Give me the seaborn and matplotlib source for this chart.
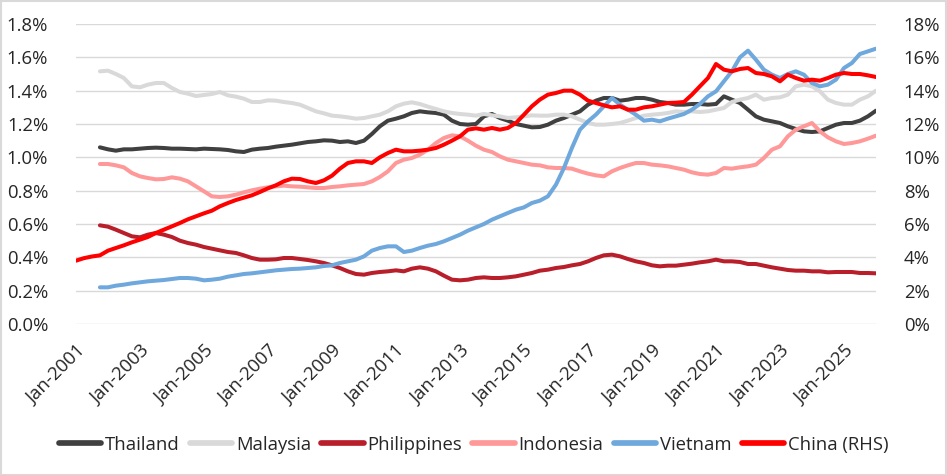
import pandas as pd
import numpy as np
import matplotlib
matplotlib.use('Agg')
import matplotlib.pyplot as plt
import matplotlib.transforms as mtransforms
import seaborn as sns
from matplotlib.ticker import FuncFormatter, MultipleLocator
from matplotlib.lines import Line2D
from matplotlib.patches import Rectangle

# Quarterly points, Jan-2001 .. Jan-2026 (101 values)
dates = pd.date_range('2001-01-01', '2026-01-01', freq='QS')
nan = np.nan

# Left axis, % share
thailand = [
    nan, nan, nan, 1.06,
    1.048, 1.04, 1.048, 1.048,
    1.052, 1.056, 1.058, 1.056,
    1.052, 1.052, 1.05, 1.048,
    1.052, 1.05, 1.048, 1.044,
    1.036, 1.032, 1.046, 1.052,
    1.056, 1.064, 1.07, 1.076,
    1.084, 1.092, 1.096, 1.102,
    1.10, 1.092, 1.096, 1.086,
    1.10, 1.14, 1.186, 1.22,
    1.232, 1.246, 1.266, 1.276,
    1.27, 1.266, 1.256, 1.22,
    1.20, 1.196, 1.20, 1.246,
    1.26, 1.236, 1.22, 1.20,
    1.19, 1.18, 1.182, 1.196,
    1.22, 1.236, 1.256, 1.276,
    1.316, 1.34, 1.356, 1.356,
    1.34, 1.346, 1.356, 1.356,
    1.346, 1.332, 1.326, 1.316,
    1.316, 1.32, 1.32, 1.316,
    1.32, 1.366, 1.346, 1.326,
    1.286, 1.246, 1.226, 1.216,
    1.206, 1.186, 1.17, 1.156,
    1.152, 1.156, 1.176, 1.196,
    1.206, 1.206, 1.22, 1.246,
    1.28,
]
malaysia = [
    nan, nan, nan, 1.516,
    1.52, 1.50, 1.476, 1.426,
    1.42, 1.436, 1.446, 1.446,
    1.416, 1.392, 1.382, 1.368,
    1.374, 1.38, 1.392, 1.372,
    1.364, 1.352, 1.332, 1.332,
    1.342, 1.34, 1.332, 1.326,
    1.316, 1.296, 1.276, 1.264,
    1.25, 1.246, 1.24, 1.232,
    1.236, 1.246, 1.256, 1.276,
    1.306, 1.322, 1.33, 1.32,
    1.304, 1.29, 1.276, 1.266,
    1.26, 1.256, 1.25, 1.26,
    1.252, 1.246, 1.236, 1.24,
    1.246, 1.252, 1.25, 1.25,
    1.256, 1.256, 1.246, 1.226,
    1.206, 1.196, 1.196, 1.20,
    1.206, 1.22, 1.236, 1.25,
    1.256, 1.26, 1.266, 1.276,
    1.272, 1.276, 1.272, 1.276,
    1.286, 1.296, 1.332, 1.346,
    1.356, 1.376, 1.346, 1.356,
    1.36, 1.376, 1.426, 1.436,
    1.426, 1.396, 1.346, 1.326,
    1.316, 1.316, 1.346, 1.366,
    1.40,
]
philippines = [
    nan, nan, nan, 0.592,
    0.584, 0.566, 0.546, 0.526,
    0.52, 0.536, 0.546, 0.536,
    0.522, 0.50, 0.486, 0.476,
    0.462, 0.452, 0.442, 0.432,
    0.426, 0.412, 0.396, 0.386,
    0.386, 0.388, 0.396, 0.396,
    0.39, 0.384, 0.376, 0.366,
    0.352, 0.336, 0.316, 0.30,
    0.296, 0.306, 0.312, 0.316,
    0.322, 0.316, 0.332, 0.34,
    0.332, 0.316, 0.29, 0.266,
    0.262, 0.266, 0.276, 0.28,
    0.276, 0.276, 0.28, 0.286,
    0.296, 0.306, 0.32, 0.326,
    0.336, 0.342, 0.352, 0.36,
    0.376, 0.396, 0.412, 0.416,
    0.406, 0.39, 0.376, 0.366,
    0.352, 0.346, 0.35, 0.35,
    0.356, 0.362, 0.37, 0.376,
    0.386, 0.376, 0.376, 0.372,
    0.36, 0.36, 0.35, 0.34,
    0.332, 0.324, 0.32, 0.32,
    0.316, 0.316, 0.31, 0.312,
    0.312, 0.312, 0.306, 0.306,
    0.304,
]
indonesia = [
    nan, nan, nan, 0.96,
    0.96, 0.952, 0.94, 0.906,
    0.886, 0.876, 0.868, 0.87,
    0.88, 0.872, 0.856, 0.826,
    0.796, 0.766, 0.762, 0.766,
    0.776, 0.79, 0.802, 0.812,
    0.82, 0.826, 0.83, 0.826,
    0.824, 0.82, 0.816, 0.816,
    0.822, 0.826, 0.832, 0.836,
    0.84, 0.856, 0.882, 0.916,
    0.966, 0.986, 0.996, 1.016,
    1.046, 1.086, 1.116, 1.132,
    1.126, 1.10, 1.07, 1.046,
    1.032, 1.006, 0.986, 0.976,
    0.966, 0.956, 0.952, 0.94,
    0.936, 0.936, 0.932, 0.916,
    0.902, 0.892, 0.886, 0.916,
    0.936, 0.952, 0.966, 0.966,
    0.956, 0.952, 0.946, 0.936,
    0.926, 0.91, 0.90, 0.896,
    0.906, 0.936, 0.932, 0.94,
    0.946, 0.956, 0.996, 1.046,
    1.066, 1.126, 1.166, 1.186,
    1.206, 1.156, 1.12, 1.096,
    1.08, 1.086, 1.096, 1.112,
    1.13,
]
vietnam = [
    nan, nan, nan, 0.22,
    0.22, 0.23, 0.236, 0.244,
    0.25, 0.256, 0.26, 0.264,
    0.27, 0.276, 0.276, 0.272,
    0.262, 0.266, 0.272, 0.284,
    0.292, 0.30, 0.304, 0.31,
    0.316, 0.322, 0.326, 0.33,
    0.332, 0.336, 0.34, 0.348,
    0.352, 0.366, 0.376, 0.386,
    0.406, 0.44, 0.456, 0.466,
    0.466, 0.432, 0.44, 0.456,
    0.47, 0.48, 0.496, 0.516,
    0.536, 0.56, 0.58, 0.60,
    0.626, 0.646, 0.666, 0.686,
    0.70, 0.726, 0.74, 0.766,
    0.836, 0.936, 1.056, 1.166,
    1.216, 1.256, 1.306, 1.356,
    1.316, 1.286, 1.256, 1.22,
    1.226, 1.216, 1.232, 1.246,
    1.26, 1.286, 1.32, 1.366,
    1.396, 1.456, 1.516, 1.60,
    1.64, 1.586, 1.526, 1.496,
    1.476, 1.50, 1.516, 1.496,
    1.446, 1.426, 1.436, 1.466,
    1.536, 1.566, 1.62, 1.636,
    1.652,
]
# Right axis, % share
china = [
    3.80, 3.95, 4.05, 4.12,
    4.40, 4.56, 4.72, 4.90,
    5.06, 5.22, 5.46, 5.66,
    5.86, 6.06, 6.28, 6.46,
    6.64, 6.80, 7.06, 7.26,
    7.44, 7.58, 7.72, 7.92,
    8.14, 8.32, 8.56, 8.72,
    8.70, 8.56, 8.46, 8.62,
    8.90, 9.32, 9.66, 9.76,
    9.76, 9.66, 10.0, 10.26,
    10.46, 10.36, 10.36, 10.40,
    10.46, 10.56, 10.76, 11.0,
    11.26, 11.66, 11.74, 11.66,
    11.76, 11.66, 11.76, 12.06,
    12.56, 13.06, 13.46, 13.76,
    13.86, 14.0, 14.0, 13.76,
    13.40, 13.26, 13.12, 13.0,
    13.06, 12.86, 12.86, 13.0,
    13.06, 13.16, 13.26, 13.28,
    13.32, 13.76, 14.26, 14.76,
    15.60, 15.26, 15.16, 15.30,
    15.36, 15.06, 15.0, 14.86,
    14.56, 14.96, 14.76, 14.60,
    14.66, 14.60, 14.76, 14.96,
    15.06, 15.0, 15.0, 14.92,
    14.82,
]

countries = ['Thailand', 'Malaysia', 'Philippines', 'Indonesia', 'Vietnam']
colors = {'Thailand': '#404040', 'Malaysia': '#d9d9d9', 'Philippines': '#b91f2b',
          'Indonesia': '#ff9999', 'Vietnam': '#6fa8dc', 'China (RHS)': '#ff0000'}

left_df = pd.DataFrame({'date': dates, 'Thailand': thailand, 'Malaysia': malaysia,
                        'Philippines': philippines, 'Indonesia': indonesia,
                        'Vietnam': vietnam})
left_df = left_df.melt(id_vars='date', var_name='country', value_name='share').dropna()
china_df = pd.DataFrame({'date': dates, 'share': china})

sns.set_style('white')
plt.rcParams['font.family'] = ['Open Sans', 'DejaVu Sans']
text_color = '#262626'
fs = 13.3
lw = 2.9

fig = plt.figure(figsize=(9.47, 4.75), dpi=100)
ax = fig.add_axes([76 / 947, 1 - 324 / 475, 800 / 947, 300 / 475])
ax2 = ax.twinx()

sns.lineplot(data=left_df, x='date', y='share', hue='country', hue_order=countries,
             palette=colors, linewidth=lw, legend=False, ax=ax,
             solid_capstyle='round', solid_joinstyle='round')
sns.lineplot(data=china_df, x='date', y='share', color=colors['China (RHS)'],
             linewidth=lw, legend=False, ax=ax2,
             solid_capstyle='round', solid_joinstyle='round')

ax.set_ylim(0, 1.8)
ax2.set_ylim(0, 18)
ax.yaxis.set_major_locator(MultipleLocator(0.2))
ax2.yaxis.set_major_locator(MultipleLocator(2))
ax.yaxis.set_major_formatter(FuncFormatter(lambda v, p: f'{v:.1f}%'))
ax2.yaxis.set_major_formatter(FuncFormatter(lambda v, p: f'{v:.0f}%'))
ax.set_xlim(pd.Timestamp('2001-01-01'), pd.Timestamp('2026-01-01'))

ticks = pd.date_range('2001-01-01', '2025-01-01', freq='24MS')
ax.set_xticks(ticks)
ax.set_xticklabels([d.strftime('Jan-%Y') for d in ticks], rotation=45,
                   ha='right', va='top', rotation_mode='anchor')
# nudge rotated labels a little to the right, like the original
shift = mtransforms.ScaledTranslation(5 / 100, 0, fig.dpi_scale_trans)
for lab in ax.get_xticklabels():
    lab.set_transform(lab.get_transform() + shift)

ax.grid(axis='y', color='#d9d9d9', linewidth=1.0)
ax.grid(axis='x', visible=False)
ax2.grid(False)
ax.set_axisbelow(True)
for a in (ax, ax2):
    for s in a.spines.values():
        s.set_visible(False)
    a.set_xlabel('')
    a.set_ylabel('')
    a.tick_params(length=0, labelsize=fs, colors=text_color)
ax.tick_params(axis='y', pad=20)
ax2.tick_params(axis='y', pad=20)
ax.tick_params(axis='x', pad=13)

handles = [Line2D([0], [0], color=colors[c], linewidth=lw + 1.2, solid_capstyle='round')
           for c in countries + ['China (RHS)']]
fig.legend(handles, countries + ['China (RHS)'], loc='center', bbox_to_anchor=(0.5, 0.064),
           ncol=6, frameon=False, fontsize=fs, handlelength=2.3, handletextpad=0.2,
           columnspacing=0.55, labelcolor=text_color)

fig.patches.append(Rectangle((0.5 / 947, 0.5 / 475), 1 - 1.5 / 947, 1 - 1.5 / 475,
                             transform=fig.transFigure, fill=False,
                             edgecolor='#d9d9d9', linewidth=1.5))

fig.savefig('out.png', dpi=100)
